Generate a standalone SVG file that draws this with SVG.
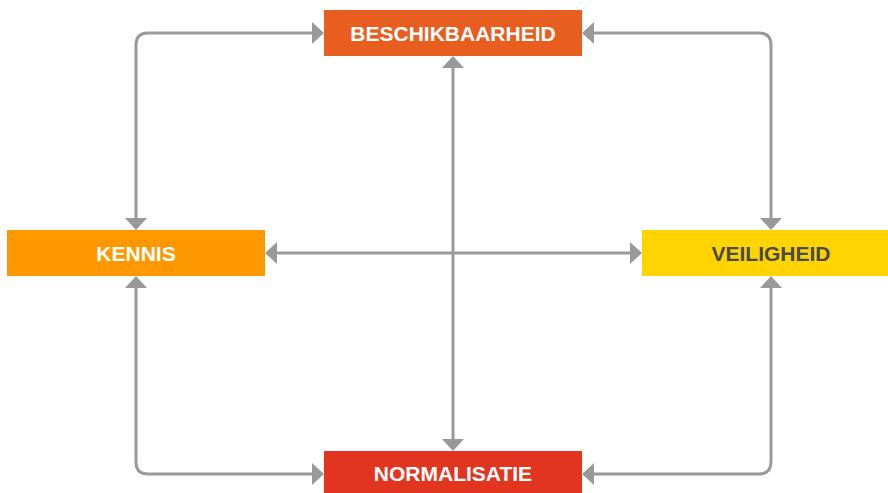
<svg xmlns="http://www.w3.org/2000/svg" width="888" height="493" viewBox="0 0 888 493">
<style>
.lbl{font-family:"Liberation Sans",Arial,sans-serif;font-weight:bold;font-size:21px;text-anchor:middle;fill:#ffffff}
.dark{fill:#4a4a4a}
.c{fill:none;stroke:#999999;stroke-width:3;marker-start:url(#ah);marker-end:url(#ah)}
</style>
<defs>
<marker id="ah" markerUnits="userSpaceOnUse" markerWidth="12" markerHeight="22" viewBox="0 0 12 22" refX="2" refY="11" orient="auto-start-reverse">
<path d="M0,0 L12,11 L0,22 Z" fill="#999999"/>
</marker>
</defs>
<rect width="888" height="493" fill="#ffffff"/>
<g id="connectors">
<path class="c" d="M136,220 V45 Q136,33 148,33 H314"/>
<path class="c" d="M592,33 H759 Q771,33 771,45 V220"/>
<path class="c" d="M136,286 V462 Q136,474 148,474 H314"/>
<path class="c" d="M592,474 H759 Q771,474 771,462 V286"/>
<path class="c" d="M453,66 V441"/>
<path class="c" d="M275,253 H632"/>
</g>
<g id="beschikbaarheid">
<rect x="324" y="10" width="258" height="46" fill="#E85E1E"/>
<text class="lbl" x="453" y="40.5">BESCHIKBAARHEID</text>
</g>
<g id="kennis">
<rect x="7" y="230" width="258" height="46" fill="#FD9800"/>
<text class="lbl" x="136" y="260.5">KENNIS</text>
</g>
<g id="veiligheid">
<rect x="642" y="230" width="258" height="46" fill="#FFD400"/>
<text class="lbl dark" x="771" y="260.5">VEILIGHEID</text>
</g>
<g id="normalisatie">
<rect x="324" y="451" width="258" height="46" fill="#E23520"/>
<text class="lbl" x="453" y="481">NORMALISATIE</text>
</g>
</svg>
